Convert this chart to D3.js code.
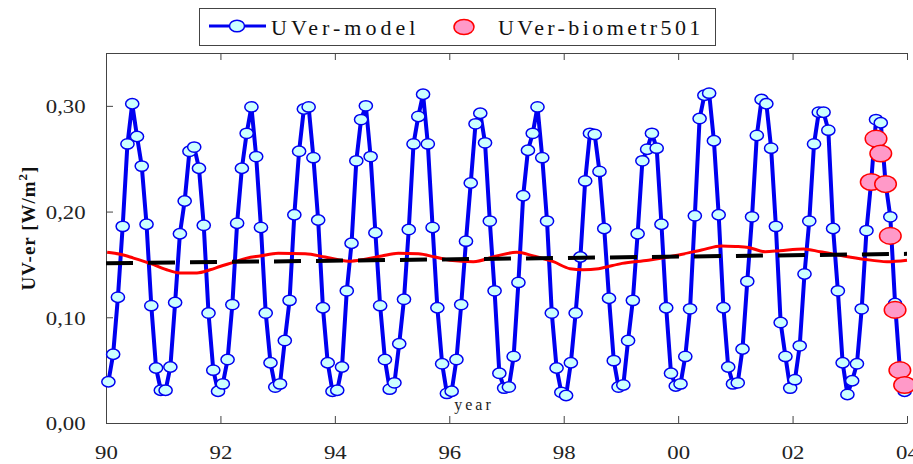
<!DOCTYPE html>
<html>
<head>
<meta charset="utf-8">
<script src="https://cdn.jsdelivr.net/npm/d3@7"></script>
<style>
  body { margin: 0; background: #fff; }
  svg { display: block; font-family: "Liberation Serif", "DejaVu Serif", serif; }
</style>
</head>
<body>
<div id="chart"></div>
<script>
// monthly model values, one row per year (Jan..Dec)
var modelYears = [1990, 1991, 1992, 1993, 1994, 1995, 1996, 1997, 1998, 1999, 2000, 2001, 2002, 2003]
var modelUV = [
    [0.039, 0.065, 0.119, 0.186, 0.264, 0.302, 0.271, 0.243, 0.188, 0.111, 0.052, 0.031],
    [0.031, 0.053, 0.114, 0.179, 0.210, 0.257, 0.261, 0.241, 0.187, 0.104, 0.050, 0.030],
    [0.037, 0.060, 0.112, 0.189, 0.241, 0.274, 0.299, 0.252, 0.185, 0.104, 0.057, 0.034],
    [0.037, 0.078, 0.116, 0.197, 0.257, 0.297, 0.299, 0.251, 0.192, 0.109, 0.057, 0.030],
    [0.031, 0.053, 0.125, 0.170, 0.248, 0.287, 0.300, 0.252, 0.180, 0.111, 0.060, 0.032],
    [0.038, 0.075, 0.117, 0.183, 0.264, 0.290, 0.311, 0.264, 0.185, 0.109, 0.056, 0.028],
    [0.030, 0.060, 0.112, 0.172, 0.227, 0.283, 0.293, 0.265, 0.191, 0.125, 0.047, 0.033],
    [0.034, 0.063, 0.133, 0.215, 0.258, 0.274, 0.299, 0.251, 0.191, 0.104, 0.052, 0.029],
    [0.026, 0.057, 0.104, 0.157, 0.229, 0.274, 0.273, 0.238, 0.184, 0.118, 0.059, 0.034],
    [0.036, 0.078, 0.116, 0.179, 0.248, 0.259, 0.274, 0.260, 0.188, 0.109, 0.047, 0.035],
    [0.037, 0.063, 0.108, 0.196, 0.288, 0.310, 0.312, 0.267, 0.197, 0.109, 0.053, 0.037],
    [0.038, 0.070, 0.134, 0.195, 0.272, 0.306, 0.302, 0.260, 0.186, 0.095, 0.063, 0.033],
    [0.041, 0.073, 0.141, 0.191, 0.264, 0.294, 0.294, 0.277, 0.184, 0.125, 0.057, 0.027],
    [0.040, 0.056, 0.108, 0.182, 0.229, 0.287, 0.284, 0.227, 0.195, 0.113, 0.051, 0.030]
]

// biometer measurements, 2003
var bioYear = 2003
var bioMonths = [5, 6, 7, 8, 9, 10, 11, 12]
var bioUV = [0.228, 0.269, 0.255, 0.226, 0.177, 0.107, 0.050, 0.036]

// running mean (red)
var meanYear = [1990.02, 1990.25, 1990.48, 1990.77, 1991.06, 1991.29, 1991.59, 1991.82, 1991.99,
    1992.23, 1992.46, 1992.69, 1993.01, 1993.48, 1993.83, 1994.24, 1994.53, 1994.82, 1995.11,
    1995.46, 1995.75, 1996.01, 1996.42, 1996.83, 1997.18, 1997.47, 1997.82, 1998.11, 1998.34,
    1998.61, 1999.02, 1999.48, 2000.01, 2000.41, 2000.76, 2001.0, 2001.23, 2001.52, 2001.78,
    2002.19, 2002.48, 2002.89, 2003.24, 2003.65, 2004.0]
var meanUV = [0.1615, 0.1596, 0.156, 0.151, 0.145, 0.142, 0.142, 0.145, 0.148,
    0.152, 0.156, 0.158, 0.1605, 0.160, 0.157, 0.153, 0.155, 0.158, 0.1605,
    0.160, 0.157, 0.154, 0.1526, 0.158, 0.1615, 0.158, 0.1526, 0.146, 0.145,
    0.146, 0.151, 0.154, 0.159, 0.1637, 0.1675, 0.167, 0.166, 0.162, 0.163,
    0.1646, 0.162, 0.158, 0.155, 0.1526, 0.154]

// linear trend (black dashed)
var trendYear = [1990, 2004]
var trendUV = [0.151, 0.160]

var xTicks = [1990, 1992, 1994, 1996, 1998, 2000, 2002, 2004]
var yTicks = [0, 0.1, 0.2, 0.3]
var legendLabels = ['UVer-model', 'UVer-biometr501']

var width = 913
var height = 464

var x = d3.scaleLinear().domain([1990, 2004]).range([106, 907])
var y = d3.scaleLinear().domain([0, 0.35]).range([423, 53])

var svg = d3.select('#chart').append('svg')
    .attr('width', width)
    .attr('height', height)

// flatten the model rows to month points
var model = []
modelUV.forEach(function (row, i) {
    row.forEach(function (v, m) {
        model.push({ t: modelYears[i] + (m + 0.5) / 12, v: v })
    })
})
var bio = bioMonths.map(function (m, i) { return { t: bioYear + (m - 0.5) / 12, v: bioUV[i] } })
var mean = meanYear.map(function (t, i) { return { t: t, v: meanUV[i] } })
var trend = trendYear.map(function (t, i) { return { t: t, v: trendUV[i] } })

var line = d3.line().x(function (d) { return x(d.t) }).y(function (d) { return y(d.v) })

// axes, ticks pointing inward
var fmtY = function (d) { return d3.format('.2f')(d).replace('.', ',') }
var fmtX = function (d) { return d3.format('02d')(d % 100) }

var gx = svg.append('g').attr('transform', 'translate(0,423)')
    .call(d3.axisBottom(x).tickValues(xTicks).tickFormat(fmtX).tickSize(-7).tickSizeOuter(0).tickPadding(23))
var gTop = svg.append('g').attr('transform', 'translate(0,53)')
    .call(d3.axisTop(x).tickValues(xTicks).tickFormat('').tickSize(-7).tickSizeOuter(0))
var gy = svg.append('g').attr('transform', 'translate(106,0)')
    .call(d3.axisLeft(y).tickValues(yTicks).tickFormat(fmtY).tickSize(-7).tickSizeOuter(0).tickPadding(17))

svg.selectAll('.domain, .tick line').attr('stroke', '#444').attr('stroke-width', 1)
svg.selectAll('.tick text')
    .attr('font-size', 19)
    .attr('font-family', '"Liberation Serif", serif')
    .attr('fill', '#222')
    .attr('transform', 'scale(1.2,1)')
gy.selectAll('.tick text').attr('dy', '0.36em')

// model line and points
svg.append('path').datum(model)
    .attr('d', line)
    .attr('fill', 'none')
    .attr('stroke', '#0000f0')
    .attr('stroke-width', 4)
    .attr('stroke-linejoin', 'round')
svg.append('g').selectAll('ellipse')
    .data(model).enter().append('ellipse')
    .attr('cx', function (d) { return x(d.t) })
    .attr('cy', function (d) { return y(d.v) })
    .attr('rx', 6.6)
    .attr('ry', 5.2)
    .attr('fill', '#ccffff')
    .attr('stroke', '#0000f0')
    .attr('stroke-width', 1.5)

// running mean
svg.append('path').datum(mean)
    .attr('d', line.curve(d3.curveMonotoneX))
    .attr('fill', 'none')
    .attr('stroke', '#ff0000')
    .attr('stroke-width', 3)
line.curve(d3.curveLinear)

// trend
svg.append('path').datum(trend)
    .attr('d', line)
    .attr('stroke', '#000')
    .attr('stroke-width', 4)
    .attr('stroke-dasharray', '27,15')

// biometer points
svg.append('g').selectAll('ellipse')
    .data(bio).enter().append('ellipse')
    .attr('cx', function (d) { return x(d.t) })
    .attr('cy', function (d) { return y(d.v) })
    .attr('rx', 10.8)
    .attr('ry', 8.3)
    .attr('fill', '#ff99c8')
    .attr('stroke', '#ff0000')
    .attr('stroke-width', 1.5)

// axis titles
svg.append('text')
    .attr('x', 474).attr('y', 410)
    .attr('text-anchor', 'middle')
    .attr('font-size', 16)
    .attr('letter-spacing', 3)
    .attr('fill', '#222')
    .text('year')

var yt = svg.append('text')
    .attr('transform', 'translate(35,228) rotate(-90)')
    .attr('text-anchor', 'middle')
    .attr('font-size', 19)
    .attr('font-weight', 'bold')
    .attr('letter-spacing', 1)
    .attr('fill', '#111')
yt.append('tspan').text('UV-er [W/m')
yt.append('tspan').attr('font-size', 13).attr('dy', -8).text('2')
yt.append('tspan').attr('dy', 8).text(']')

// legend
var lg = svg.append('g')
lg.append('rect')
    .attr('x', 199.5).attr('y', 8.5).attr('width', 516).attr('height', 37)
    .attr('fill', '#fff').attr('stroke', '#444').attr('stroke-width', 1)
lg.append('line')
    .attr('x1', 209).attr('x2', 266).attr('y1', 26).attr('y2', 26)
    .attr('stroke', '#0000f0').attr('stroke-width', 3)
lg.append('ellipse')
    .attr('cx', 237).attr('cy', 26).attr('rx', 7.5).attr('ry', 5.8)
    .attr('fill', '#ccffff').attr('stroke', '#0000f0').attr('stroke-width', 1.5)
lg.append('ellipse')
    .attr('cx', 464).attr('cy', 27).attr('rx', 10).attr('ry', 7.5)
    .attr('fill', '#ff99c8').attr('stroke', '#ff0000').attr('stroke-width', 1.5)
lg.selectAll('text.lab')
    .data(legendLabels).enter().append('text')
    .attr('class', 'lab')
    .attr('x', function (d, i) { return i ? 498 : 271 })
    .attr('y', 35)
    .attr('font-size', 22)
    .attr('letter-spacing', function (d, i) { return i ? 3.4 : 4 })
    .attr('fill', '#111')
    .text(function (d) { return d })
</script>
</body>
</html>
